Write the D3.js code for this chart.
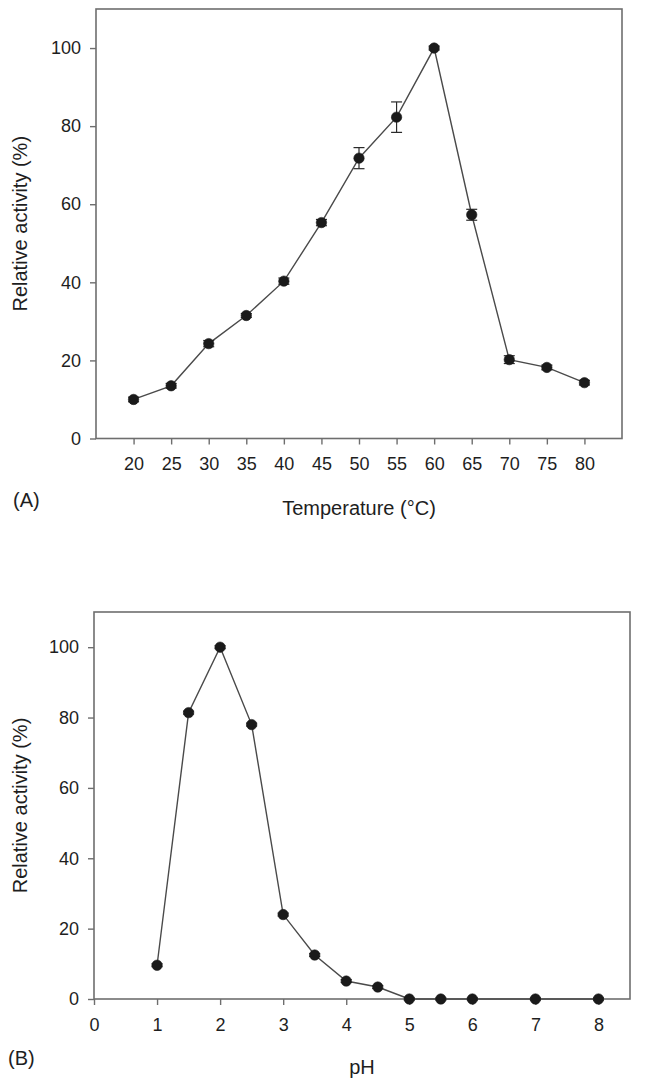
<!DOCTYPE html>
<html>
<head>
<meta charset="utf-8">
<script src="https://cdn.jsdelivr.net/npm/d3@7"></script>
<style>
  html, body { margin: 0; padding: 0; background: #fff; }
  svg { display: block; }
  text { font-family: "Liberation Sans", Arial, sans-serif; fill: #1e1e1e; }
</style>
</head>
<body>
<svg id="chart" width="645" height="1078"></svg>
<script>
// ---- Panel A: temperature ----
const temperature = [20, 25, 30, 35, 40, 45, 50, 55, 60, 65, 70, 75, 80];
const tempActivity = [10.0, 13.5, 24.3, 31.5, 40.3, 55.3, 71.8, 82.3, 100, 57.3, 20.2, 18.2, 14.3];
const tempError = [0.6, 0.6, 0.8, 0.5, 0.8, 0.8, 2.7, 3.9, 0.5, 1.4, 1.0, 0.6, 0.6];
const tempTicks = [20, 25, 30, 35, 40, 45, 50, 55, 60, 65, 70, 75, 80];

// ---- Panel B: pH ----
const pH = [1, 1.5, 2, 2.5, 3, 3.5, 4, 4.5, 5, 5.5, 6, 7, 8];
const pHActivity = [9.6, 81.4, 100, 78.0, 24.0, 12.5, 5.1, 3.4, 0, 0, 0, 0, 0];
const pHError = [0.4, 0.4, 0.4, 0.4, 0.4, 0.4, 0.4, 0.4, 0.3, 0.3, 0.3, 0.3, 0.3];
const pHTicks = [0, 1, 2, 3, 4, 5, 6, 7, 8];

const yTicks = [0, 20, 40, 60, 80, 100];
const yLabel = "Relative activity (%)";

const svg = d3.select("#chart");

function panel(cfg) {
  const { xs, ys, errs, xDomain, xTicks, left, right, top, bottom, xLabel, xLabelY, tag, tagX, tagY } = cfg;
  const x = d3.scaleLinear().domain(xDomain).range([left, right]);
  const y = d3.scaleLinear().domain([0, 110]).range([bottom, top]);
  const g = svg.append("g");
  const frameColor = "#6e6e6e";

  // frame
  g.append("rect")
    .attr("x", left).attr("y", top)
    .attr("width", right - left).attr("height", bottom - top)
    .attr("fill", "none").attr("stroke", frameColor).attr("stroke-width", 1.6);

  // x axis
  const xa = g.append("g").attr("transform", `translate(0,${bottom})`)
    .call(d3.axisBottom(x).tickValues(xTicks).tickSize(6).tickPadding(13).tickFormat(d3.format("d")));
  // y axis
  const ya = g.append("g").attr("transform", `translate(${left},0)`)
    .call(d3.axisLeft(y).tickValues(yTicks).tickSize(6).tickPadding(9));
  [xa, ya].forEach(a => {
    a.select(".domain").remove();
    a.selectAll(".tick line").attr("stroke", frameColor).attr("stroke-width", 1.4);
    a.selectAll(".tick text").attr("font-size", 18).attr("fill", "#1e1e1e")
      .attr("font-family", '"Liberation Sans", Arial, sans-serif');
  });

  // line
  const pts = xs.map((v, i) => ({ x: v, y: ys[i], e: errs[i] }));
  g.append("path").datum(pts)
    .attr("fill", "none").attr("stroke", "#4a4a4a").attr("stroke-width", 1.4)
    .attr("d", d3.line().x(d => x(d.x)).y(d => y(d.y)));

  // error bars
  const eb = g.append("g").attr("stroke", "#2a2a2a").attr("stroke-width", 1.2);
  pts.forEach(d => {
    const x0 = x(d.x), y1 = y(d.y + d.e), y2 = y(d.y - d.e);
    eb.append("line").attr("x1", x0).attr("x2", x0).attr("y1", y1).attr("y2", y2);
    eb.append("line").attr("x1", x0 - 5.5).attr("x2", x0 + 5.5).attr("y1", y1).attr("y2", y1);
    eb.append("line").attr("x1", x0 - 5.5).attr("x2", x0 + 5.5).attr("y1", y2).attr("y2", y2);
  });

  // markers
  g.selectAll("circle.pt").data(pts).enter().append("circle")
    .attr("class", "pt")
    .attr("cx", d => x(d.x)).attr("cy", d => y(d.y)).attr("r", 5.2)
    .attr("fill", "#1a1a1a").attr("stroke", "#1a1a1a").attr("stroke-width", 0.6);

  // y label
  g.append("text")
    .attr("transform", `translate(${27},${(top + bottom) / 2}) rotate(-90)`)
    .attr("text-anchor", "middle").attr("font-size", 20)
    .text(yLabel);

  // x label
  g.append("text")
    .attr("x", (left + right) / 2).attr("y", xLabelY)
    .attr("text-anchor", "middle").attr("font-size", 20)
    .text(xLabel);

  // panel tag
  g.append("text")
    .attr("x", tagX).attr("y", tagY)
    .attr("font-size", 20)
    .text(tag);
}

panel({
  xs: temperature, ys: tempActivity, errs: tempError,
  xDomain: [15, 85], xTicks: tempTicks,
  left: 96, right: 622, top: 9, bottom: 438.5,
  xLabel: "Temperature (°C)", xLabelY: 515,
  tag: "(A)", tagX: 13, tagY: 507
});

panel({
  xs: pH, ys: pHActivity, errs: pHError,
  xDomain: [0, 8.5], xTicks: pHTicks,
  left: 94, right: 630, top: 612, bottom: 999,
  xLabel: "pH", xLabelY: 1074,
  tag: "(B)", tagX: 8, tagY: 1065
});
</script>
</body>
</html>
